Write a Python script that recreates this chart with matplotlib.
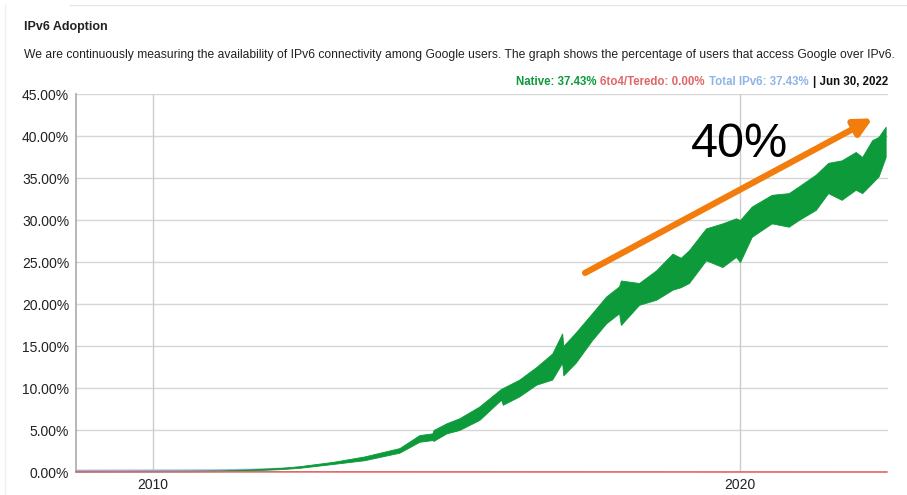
import matplotlib
matplotlib.use('Agg')
import matplotlib.pyplot as plt
from matplotlib.lines import Line2D
from matplotlib.offsetbox import TextArea, HPacker, AnchoredOffsetbox

# Native IPv6: lower / upper edge of the weekly band (% of users)
years = [2008.69, 2009.50, 2010.50, 2011.20, 2011.70, 2012.20, 2012.50, 2013.06,
         2013.60, 2014.20, 2014.54, 2014.76, 2014.78, 2015.00, 2015.22, 2015.56,
         2015.93, 2015.96, 2016.24, 2016.53, 2016.80, 2016.97, 2016.99, 2017.20,
         2017.48, 2017.72, 2017.94, 2017.97, 2018.28, 2018.57, 2018.85, 2018.99,
         2019.13, 2019.42, 2019.70, 2019.93, 2020.00, 2020.20, 2020.54, 2020.83,
         2021.00, 2021.29, 2021.50, 2021.73, 2021.97, 2022.08, 2022.25, 2022.36,
         2022.48]
native_low = [0.05, 0.06, 0.07, 0.10, 0.20, 0.35, 0.50, 0.95,
              1.40, 2.30, 3.60, 3.80, 3.70, 4.60, 5.00, 6.20,
              8.60, 8.00, 9.00, 10.40, 11.00, 13.00, 11.50, 13.00,
              15.70, 17.70, 18.90, 17.50, 19.90, 20.50, 21.70, 22.00,
              22.50, 25.20, 24.40, 25.60, 25.00, 28.00, 29.60, 29.20,
              30.00, 31.20, 33.20, 32.40, 33.60, 33.20, 34.40, 35.20,
              37.50]
native_high = [0.12, 0.13, 0.15, 0.20, 0.32, 0.50, 0.70, 1.20,
               1.85, 2.85, 4.40, 4.60, 5.00, 5.80, 6.40, 7.80,
               9.90, 10.00, 11.00, 12.50, 14.10, 16.50, 15.00, 16.60,
               18.90, 20.90, 22.10, 22.80, 22.50, 24.00, 26.00, 25.50,
               26.40, 29.00, 29.60, 30.20, 30.00, 31.60, 33.00, 33.20,
               34.00, 35.40, 36.80, 37.10, 38.10, 37.50, 39.50, 39.90,
               41.10]

# Total IPv6 (only visible in the early years) and 6to4/Teredo
total_years = [2008.69, 2010.00, 2011.00, 2011.70, 2012.30]
total_vals = [0.18, 0.20, 0.22, 0.30, 0.45]
teredo_years = [2008.69, 2022.50]
teredo_vals = [0.02, 0.00]

yticks = [0, 5, 10, 15, 20, 25, 30, 35, 40, 45]
xticks = [2010, 2020]

GREEN = '#0c9a3a'
RED = '#e06666'
BLUE = '#8fb4e6'
ORANGE = '#f27d0c'

W, H = 907, 495
fig = plt.figure(figsize=(W / 100, H / 100), dpi=100)
plt.rcParams['font.family'] = ['Liberation Sans', 'DejaVu Sans']

def fx(px):
    return px / W

def fy(py):
    return 1 - py / H

# cornice leggera della pagina
fig.add_artist(Line2D([fx(70), fx(907)], [fy(5), fy(5)], color='#e6e6e6', lw=1))
fig.add_artist(Line2D([fx(5), fx(5)], [fy(5), 0], color='#eeeeee', lw=1))

# titolo e descrizione
fig.text(fx(24), fy(27), 'IPv6 Adoption', fontsize=9, fontweight='bold',
         color='#222222', va='center', ha='left')
fig.text(fx(24), fy(55),
         'We are continuously measuring the availability of IPv6 connectivity among Google users. '
         'The graph shows the percentage of users that access Google over IPv6.',
         fontsize=8.7, color='#222222', va='center', ha='left')

ax = fig.add_axes([fx(76), fy(472), fx(888) - fx(76), fy(94) - fy(472)])

# griglia
for v in yticks:
    ax.axhline(v, color='#d6d6d6', lw=1, zorder=0)
for v in xticks:
    ax.axvline(v, color='#cccccc', lw=1, zorder=0)

ax.plot(total_years, total_vals, color=BLUE, lw=1.2, zorder=1)
ax.fill_between(years, native_low, native_high, color=GREEN, lw=0.6,
                edgecolor=GREEN, zorder=2)
ax.plot(teredo_years, teredo_vals, color=RED, lw=1.2, zorder=3, clip_on=False)

ax.set_xlim(2008.69, 2022.52)
ax.set_ylim(0, 45)
ax.set_yticks(yticks)
ax.set_yticklabels(['%.2f%%' % v for v in yticks])
ax.set_xticks(xticks)
ax.set_xticklabels([str(v) for v in xticks])
ax.tick_params(length=0, labelsize=10, colors='#222222', pad=5)
ax.tick_params(axis='x', pad=4)

for s in ['top', 'right', 'bottom']:
    ax.spines[s].set_visible(False)
ax.spines['left'].set_color('#aaaaaa')
ax.spines['left'].set_linewidth(1.2)

# freccia e testo "40%"
ax.annotate('', xy=(2022.26, 42.1), xytext=(2017.36, 23.7),
            arrowprops=dict(arrowstyle='-|>', color=ORANGE, lw=4.5,
                            mutation_scale=26, shrinkA=0, shrinkB=0),
            zorder=5)
ax.text(2019.17, 37.5, '40%', fontsize=35, color='black', va='baseline', ha='left', zorder=6)

# legenda colorata in alto a destra
parts = [('Native: 37.43%', GREEN), ('6to4/Teredo: 0.00%', RED),
         ('Total IPv6: 37.43%', BLUE), ('| Jun 30, 2022', '#111111')]
boxes = [TextArea(t, textprops=dict(color=c, fontsize=8.3, fontweight='bold')) for t, c in parts]
pack = HPacker(children=boxes, align='baseline', pad=0, sep=3)
anch = AnchoredOffsetbox(loc='center right', child=pack, pad=0, borderpad=0, frameon=False,
                         bbox_to_anchor=(fx(888), fy(82)), bbox_transform=fig.transFigure)
fig.add_artist(anch)

fig.savefig('out.png', dpi=100)
